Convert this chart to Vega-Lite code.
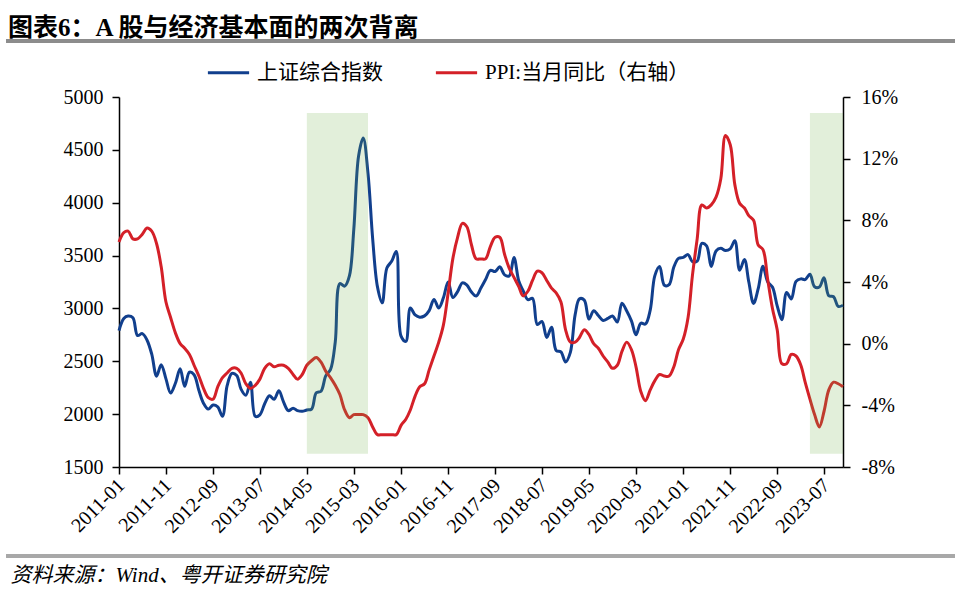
{
  "$schema": "https://vega.github.io/schema/vega-lite/v6.json",
  "width": 724,
  "height": 370,
  "autosize": {"type": "none"},
  "padding": {"left": 119, "top": 97, "right": 117, "bottom": 130},
  "background": "white",
  "title": {
    "text": "图表6：A 股与经济基本面的两次背离",
    "anchor": "start",
    "frame": "group",
    "dx": -111,
    "dy": 1,
    "offset": 0,
    "font": "Liberation Serif, Noto Sans CJK SC",
    "fontSize": 25,
    "fontWeight": "bold",
    "color": "#000000"
  },
  "config": {
    "view": {"stroke": null},
    "axis": {
      "grid": false,
      "domainColor": "#000000",
      "domainWidth": 1.5,
      "tickColor": "#000000",
      "tickWidth": 1.5,
      "tickSize": 7,
      "labelColor": "#000000",
      "labelFont": "Liberation Serif",
      "labelFontSize": 20
    }
  },
  "data": {
    "values": [
      {"date": "2011-01-01", "sse": 2790.7, "ppi": 6.6},
      {"date": "2011-02-01", "sse": 2905.1, "ppi": 7.2},
      {"date": "2011-03-01", "sse": 2928.1, "ppi": 7.3},
      {"date": "2011-04-01", "sse": 2911.5, "ppi": 6.8},
      {"date": "2011-05-01", "sse": 2743.5, "ppi": 6.8},
      {"date": "2011-06-01", "sse": 2762.1, "ppi": 7.1},
      {"date": "2011-07-01", "sse": 2701.7, "ppi": 7.5},
      {"date": "2011-08-01", "sse": 2567.3, "ppi": 7.3},
      {"date": "2011-09-01", "sse": 2359.2, "ppi": 6.5},
      {"date": "2011-10-01", "sse": 2468.3, "ppi": 5.0},
      {"date": "2011-11-01", "sse": 2333.4, "ppi": 2.7},
      {"date": "2011-12-01", "sse": 2199.4, "ppi": 1.7},
      {"date": "2012-01-01", "sse": 2292.6, "ppi": 0.7},
      {"date": "2012-02-01", "sse": 2428.5, "ppi": 0.0},
      {"date": "2012-03-01", "sse": 2262.8, "ppi": -0.3},
      {"date": "2012-04-01", "sse": 2396.3, "ppi": -0.7},
      {"date": "2012-05-01", "sse": 2372.2, "ppi": -1.4},
      {"date": "2012-06-01", "sse": 2225.4, "ppi": -2.1},
      {"date": "2012-07-01", "sse": 2103.6, "ppi": -2.9},
      {"date": "2012-08-01", "sse": 2047.5, "ppi": -3.5},
      {"date": "2012-09-01", "sse": 2086.2, "ppi": -3.6},
      {"date": "2012-10-01", "sse": 2068.9, "ppi": -2.8},
      {"date": "2012-11-01", "sse": 1980.1, "ppi": -2.2},
      {"date": "2012-12-01", "sse": 2269.1, "ppi": -1.9},
      {"date": "2013-01-01", "sse": 2385.4, "ppi": -1.6},
      {"date": "2013-02-01", "sse": 2365.6, "ppi": -1.6},
      {"date": "2013-03-01", "sse": 2236.6, "ppi": -1.9},
      {"date": "2013-04-01", "sse": 2177.9, "ppi": -2.6},
      {"date": "2013-05-01", "sse": 2300.6, "ppi": -2.9},
      {"date": "2013-06-01", "sse": 1979.2, "ppi": -2.7},
      {"date": "2013-07-01", "sse": 1993.8, "ppi": -2.3},
      {"date": "2013-08-01", "sse": 2098.4, "ppi": -1.6},
      {"date": "2013-09-01", "sse": 2174.7, "ppi": -1.3},
      {"date": "2013-10-01", "sse": 2141.6, "ppi": -1.5},
      {"date": "2013-11-01", "sse": 2220.5, "ppi": -1.4},
      {"date": "2013-12-01", "sse": 2116.0, "ppi": -1.4},
      {"date": "2014-01-01", "sse": 2033.1, "ppi": -1.6},
      {"date": "2014-02-01", "sse": 2056.3, "ppi": -2.0},
      {"date": "2014-03-01", "sse": 2033.3, "ppi": -2.3},
      {"date": "2014-04-01", "sse": 2026.4, "ppi": -2.0},
      {"date": "2014-05-01", "sse": 2039.2, "ppi": -1.4},
      {"date": "2014-06-01", "sse": 2048.3, "ppi": -1.1},
      {"date": "2014-07-01", "sse": 2201.6, "ppi": -0.9},
      {"date": "2014-08-01", "sse": 2217.2, "ppi": -1.2},
      {"date": "2014-09-01", "sse": 2363.9, "ppi": -1.8},
      {"date": "2014-10-01", "sse": 2420.2, "ppi": -2.2},
      {"date": "2014-11-01", "sse": 2682.8, "ppi": -2.7},
      {"date": "2014-12-01", "sse": 3234.7, "ppi": -3.3},
      {"date": "2015-01-01", "sse": 3210.4, "ppi": -4.3},
      {"date": "2015-02-01", "sse": 3310.3, "ppi": -4.8},
      {"date": "2015-03-01", "sse": 3747.9, "ppi": -4.6},
      {"date": "2015-04-01", "sse": 4441.7, "ppi": -4.6},
      {"date": "2015-05-01", "sse": 4611.7, "ppi": -4.6},
      {"date": "2015-06-01", "sse": 4277.2, "ppi": -4.8},
      {"date": "2015-07-01", "sse": 3663.7, "ppi": -5.4},
      {"date": "2015-08-01", "sse": 3206.0, "ppi": -5.9},
      {"date": "2015-09-01", "sse": 3052.8, "ppi": -5.9},
      {"date": "2015-10-01", "sse": 3382.6, "ppi": -5.9},
      {"date": "2015-11-01", "sse": 3445.4, "ppi": -5.9},
      {"date": "2015-12-01", "sse": 3539.2, "ppi": -5.9},
      {"date": "2016-01-01", "sse": 2737.6, "ppi": -5.3},
      {"date": "2016-02-01", "sse": 2688.0, "ppi": -4.9},
      {"date": "2016-03-01", "sse": 3003.9, "ppi": -4.3},
      {"date": "2016-04-01", "sse": 2938.3, "ppi": -3.4},
      {"date": "2016-05-01", "sse": 2916.6, "ppi": -2.8},
      {"date": "2016-06-01", "sse": 2929.6, "ppi": -2.6},
      {"date": "2016-07-01", "sse": 2979.3, "ppi": -1.7},
      {"date": "2016-08-01", "sse": 3085.5, "ppi": -0.8},
      {"date": "2016-09-01", "sse": 3004.7, "ppi": 0.1},
      {"date": "2016-10-01", "sse": 3100.5, "ppi": 1.2},
      {"date": "2016-11-01", "sse": 3250.0, "ppi": 3.3},
      {"date": "2016-12-01", "sse": 3103.6, "ppi": 5.5},
      {"date": "2017-01-01", "sse": 3159.2, "ppi": 6.9},
      {"date": "2017-02-01", "sse": 3241.7, "ppi": 7.8},
      {"date": "2017-03-01", "sse": 3222.5, "ppi": 7.6},
      {"date": "2017-04-01", "sse": 3154.7, "ppi": 6.4},
      {"date": "2017-05-01", "sse": 3117.2, "ppi": 5.5},
      {"date": "2017-06-01", "sse": 3192.4, "ppi": 5.5},
      {"date": "2017-07-01", "sse": 3273.0, "ppi": 5.5},
      {"date": "2017-08-01", "sse": 3360.8, "ppi": 6.3},
      {"date": "2017-09-01", "sse": 3348.9, "ppi": 6.9},
      {"date": "2017-10-01", "sse": 3393.3, "ppi": 6.9},
      {"date": "2017-11-01", "sse": 3317.2, "ppi": 5.8},
      {"date": "2017-12-01", "sse": 3307.2, "ppi": 4.9},
      {"date": "2018-01-01", "sse": 3480.8, "ppi": 4.3},
      {"date": "2018-02-01", "sse": 3259.4, "ppi": 3.7},
      {"date": "2018-03-01", "sse": 3168.9, "ppi": 3.1},
      {"date": "2018-04-01", "sse": 3082.2, "ppi": 3.4},
      {"date": "2018-05-01", "sse": 3095.5, "ppi": 4.1},
      {"date": "2018-06-01", "sse": 2847.4, "ppi": 4.7},
      {"date": "2018-07-01", "sse": 2876.4, "ppi": 4.6},
      {"date": "2018-08-01", "sse": 2725.3, "ppi": 4.1},
      {"date": "2018-09-01", "sse": 2821.4, "ppi": 3.6},
      {"date": "2018-10-01", "sse": 2602.8, "ppi": 3.3},
      {"date": "2018-11-01", "sse": 2588.2, "ppi": 2.7},
      {"date": "2018-12-01", "sse": 2493.9, "ppi": 0.9},
      {"date": "2019-01-01", "sse": 2584.6, "ppi": 0.1},
      {"date": "2019-02-01", "sse": 2941.0, "ppi": 0.1},
      {"date": "2019-03-01", "sse": 3090.8, "ppi": 0.4},
      {"date": "2019-04-01", "sse": 3078.3, "ppi": 0.9},
      {"date": "2019-05-01", "sse": 2898.7, "ppi": 0.6},
      {"date": "2019-06-01", "sse": 2978.9, "ppi": 0.0},
      {"date": "2019-07-01", "sse": 2932.5, "ppi": -0.3},
      {"date": "2019-08-01", "sse": 2886.2, "ppi": -0.8},
      {"date": "2019-09-01", "sse": 2905.2, "ppi": -1.2},
      {"date": "2019-10-01", "sse": 2929.1, "ppi": -1.6},
      {"date": "2019-11-01", "sse": 2872.0, "ppi": -1.4},
      {"date": "2019-12-01", "sse": 3050.1, "ppi": -0.5},
      {"date": "2020-01-01", "sse": 2976.5, "ppi": 0.1},
      {"date": "2020-02-01", "sse": 2880.3, "ppi": -0.4},
      {"date": "2020-03-01", "sse": 2750.3, "ppi": -1.5},
      {"date": "2020-04-01", "sse": 2860.1, "ppi": -3.1},
      {"date": "2020-05-01", "sse": 2852.4, "ppi": -3.7},
      {"date": "2020-06-01", "sse": 2984.7, "ppi": -3.0},
      {"date": "2020-07-01", "sse": 3310.0, "ppi": -2.4},
      {"date": "2020-08-01", "sse": 3395.7, "ppi": -2.0},
      {"date": "2020-09-01", "sse": 3218.1, "ppi": -2.1},
      {"date": "2020-10-01", "sse": 3224.5, "ppi": -2.1},
      {"date": "2020-11-01", "sse": 3391.8, "ppi": -1.5},
      {"date": "2020-12-01", "sse": 3473.1, "ppi": -0.4},
      {"date": "2021-01-01", "sse": 3483.1, "ppi": 0.3},
      {"date": "2021-02-01", "sse": 3509.1, "ppi": 1.7},
      {"date": "2021-03-01", "sse": 3441.9, "ppi": 4.4},
      {"date": "2021-04-01", "sse": 3446.9, "ppi": 6.8},
      {"date": "2021-05-01", "sse": 3615.5, "ppi": 9.0},
      {"date": "2021-06-01", "sse": 3591.2, "ppi": 8.8},
      {"date": "2021-07-01", "sse": 3397.4, "ppi": 9.0},
      {"date": "2021-08-01", "sse": 3543.9, "ppi": 9.5},
      {"date": "2021-09-01", "sse": 3568.2, "ppi": 10.7},
      {"date": "2021-10-01", "sse": 3547.3, "ppi": 13.5},
      {"date": "2021-11-01", "sse": 3563.9, "ppi": 12.9},
      {"date": "2021-12-01", "sse": 3639.8, "ppi": 10.3},
      {"date": "2022-01-01", "sse": 3361.4, "ppi": 9.1},
      {"date": "2022-02-01", "sse": 3462.3, "ppi": 8.8},
      {"date": "2022-03-01", "sse": 3252.2, "ppi": 8.3},
      {"date": "2022-04-01", "sse": 3047.1, "ppi": 8.0},
      {"date": "2022-05-01", "sse": 3186.4, "ppi": 6.4},
      {"date": "2022-06-01", "sse": 3398.6, "ppi": 6.1},
      {"date": "2022-07-01", "sse": 3253.2, "ppi": 4.2},
      {"date": "2022-08-01", "sse": 3202.1, "ppi": 2.3},
      {"date": "2022-09-01", "sse": 3024.4, "ppi": 0.9},
      {"date": "2022-10-01", "sse": 2893.5, "ppi": -1.3},
      {"date": "2022-11-01", "sse": 3151.3, "ppi": -1.3},
      {"date": "2022-12-01", "sse": 3089.3, "ppi": -0.7},
      {"date": "2023-01-01", "sse": 3255.7, "ppi": -0.8},
      {"date": "2023-02-01", "sse": 3279.6, "ppi": -1.4},
      {"date": "2023-03-01", "sse": 3272.9, "ppi": -2.5},
      {"date": "2023-04-01", "sse": 3323.3, "ppi": -3.6},
      {"date": "2023-05-01", "sse": 3204.6, "ppi": -4.6},
      {"date": "2023-06-01", "sse": 3202.1, "ppi": -5.4},
      {"date": "2023-07-01", "sse": 3291.0, "ppi": -4.4},
      {"date": "2023-08-01", "sse": 3119.9, "ppi": -3.0},
      {"date": "2023-09-01", "sse": 3110.5, "ppi": -2.5},
      {"date": "2023-10-01", "sse": 3018.8, "ppi": -2.6},
      {"date": "2023-11-01", "sse": 3029.7, "ppi": -2.8}
    ]
  },
  "layer": [
    {
      "mark": {"type": "line", "interpolate": "catmull-rom", "strokeWidth": 3},
      "encoding": {
        "x": {
          "field": "date",
          "type": "temporal",
          "scale": {
            "type": "utc",
            "domain": [
              {"year": 2011, "month": 1, "date": 1, "utc": true},
              {"year": 2023, "month": 11, "date": 1, "utc": true}
            ]
          },
          "axis": {
            "values": [
              {"year": 2011, "month": 1, "date": 1, "utc": true},
              {"year": 2011, "month": 11, "date": 1, "utc": true},
              {"year": 2012, "month": 9, "date": 1, "utc": true},
              {"year": 2013, "month": 7, "date": 1, "utc": true},
              {"year": 2014, "month": 5, "date": 1, "utc": true},
              {"year": 2015, "month": 3, "date": 1, "utc": true},
              {"year": 2016, "month": 1, "date": 1, "utc": true},
              {"year": 2016, "month": 11, "date": 1, "utc": true},
              {"year": 2017, "month": 9, "date": 1, "utc": true},
              {"year": 2018, "month": 7, "date": 1, "utc": true},
              {"year": 2019, "month": 5, "date": 1, "utc": true},
              {"year": 2020, "month": 3, "date": 1, "utc": true},
              {"year": 2021, "month": 1, "date": 1, "utc": true},
              {"year": 2021, "month": 11, "date": 1, "utc": true},
              {"year": 2022, "month": 9, "date": 1, "utc": true},
              {"year": 2023, "month": 7, "date": 1, "utc": true}
            ],
            "labelExpr": "utcFormat(datum.value, '%Y-%m')",
            "labelAngle": -45,
            "labelAlign": "right",
            "labelBaseline": "middle",
            "labelPadding": 8,
            "labelOffset": 2,
            "labelFontSize": 20,
            "labelOverlap": false,
            "labelFlush": false,
            "title": "资料来源：Wind、粤开证券研究院",
            "titleX": -109,
            "titleY": 114,
            "titleAlign": "left",
            "titleAnchor": null,
            "titleBaseline": "alphabetic",
            "titleFont": "Liberation Serif, Noto Sans CJK SC",
            "titleFontSize": 21,
            "titleFontStyle": "italic",
            "titleFontWeight": "normal",
            "titleColor": "#000000"
          }
        },
        "y": {
          "field": "sse",
          "type": "quantitative",
          "scale": {"domain": [1500, 5000], "nice": false, "zero": false},
          "axis": {
            "orient": "left",
            "values": [1500, 2000, 2500, 3000, 3500, 4000, 4500, 5000],
            "format": "d",
            "labelPadding": 9,
            "title": null
          }
        },
        "color": {
          "datum": "上证综合指数",
          "type": "nominal",
          "scale": {
            "domain": ["上证综合指数", "PPI:当月同比（右轴）"],
            "range": ["#113f8d", "#d42028"]
          },
          "legend": {
            "orient": "none",
            "legendX": 87,
            "legendY": -47,
            "direction": "horizontal",
            "title": null,
            "symbolType": "stroke",
            "symbolSize": 1700,
            "symbolStrokeWidth": 3,
            "labelFont": "Liberation Serif, Noto Sans CJK SC",
            "labelFontSize": 21,
            "labelColor": "#000000",
            "labelOffset": 6,
            "labelLimit": 0,
            "columnPadding": 46,
            "padding": 0
          }
        }
      }
    },
    {
      "mark": {"type": "line", "interpolate": "catmull-rom", "strokeWidth": 3},
      "encoding": {
        "x": {"field": "date", "type": "temporal"},
        "y": {
          "field": "ppi",
          "type": "quantitative",
          "scale": {"domain": [-8, 16], "nice": false, "zero": false},
          "axis": {
            "orient": "right",
            "values": [-8, -4, 0, 4, 8, 12, 16],
            "labelExpr": "datum.value + '%'",
            "labelPadding": 11,
            "title": null
          }
        },
        "color": {"datum": "PPI:当月同比（右轴）", "type": "nominal"}
      }
    },
    {
      "data": {
        "values": [
          {"start": "2014-05-01", "end": "2015-06-01", "lo": 1626, "hi": 4849},
          {"start": "2023-04-01", "end": "2023-11-01", "lo": 1626, "hi": 4849}
        ]
      },
      "mark": {"type": "rect", "fill": "#70ad47", "opacity": 0.2},
      "encoding": {
        "x": {"field": "start", "type": "temporal"},
        "x2": {"field": "end"},
        "y": {
          "field": "lo",
          "type": "quantitative",
          "scale": {"domain": [1500, 5000], "nice": false, "zero": false},
          "axis": null
        },
        "y2": {"field": "hi"}
      }
    },
    {
      "mark": {"type": "rule", "stroke": "#8c8c8c", "strokeWidth": 2.5},
      "encoding": {
        "x": {"datum": {"year": 2009, "month": 1, "date": 5, "utc": true}, "type": "temporal"},
        "x2": {"datum": {"year": 2025, "month": 10, "date": 25, "utc": true}},
        "y": {
          "datum": 5530,
          "type": "quantitative",
          "scale": {"domain": [1500, 5000], "nice": false, "zero": false},
          "axis": null
        }
      }
    },
    {
      "mark": {"type": "rule", "stroke": "#a8a8a8", "strokeWidth": 2.5},
      "encoding": {
        "x": {"datum": {"year": 2009, "month": 1, "date": 5, "utc": true}, "type": "temporal"},
        "x2": {"datum": {"year": 2025, "month": 10, "date": 25, "utc": true}},
        "y": {
          "datum": 658,
          "type": "quantitative",
          "scale": {"domain": [1500, 5000], "nice": false, "zero": false},
          "axis": null
        }
      }
    }
  ],
  "resolve": {"scale": {"y": "independent"}}
}
